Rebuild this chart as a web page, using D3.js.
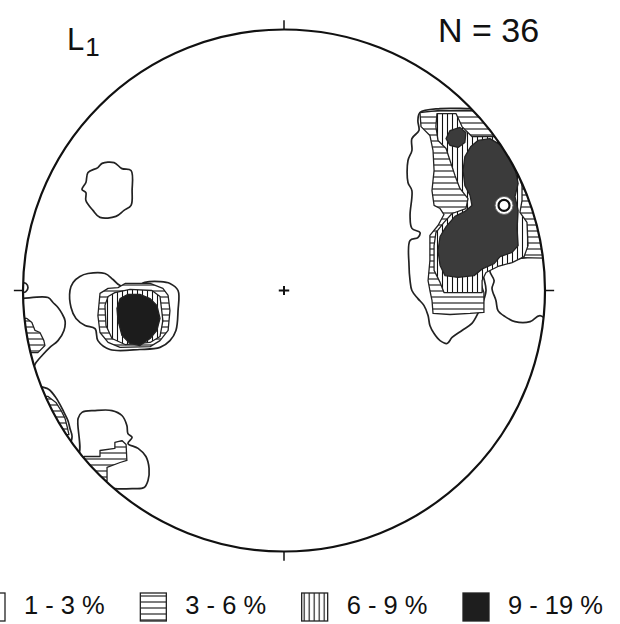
<!DOCTYPE html>
<html>
<head>
<meta charset="utf-8">
<script src="https://cdn.jsdelivr.net/npm/d3@7"></script>
<style>
  body { margin: 0; background: #fff; }
  svg text { font-family: "Liberation Sans", Arial, Helvetica, sans-serif; fill: #111; }
</style>
</head>
<body>
<div id="chart"></div>
<script>
// contour classes of the density plot
const levels = ['1 - 3 %', '3 - 6 %', '6 - 9 %', '9 - 19 %'];
const nPoints = 36;

// contour polygons, net coordinates (primitive circle radius = 100, x east, y north)
const eastOuter = [[52.1,68.2],[59.8,69.7],[71.3,69.7],[78.9,69.7],[105.7,69.7],[105.7,10.7],[90.4,12.6],[82.8,11.9],[75.1,9.2],[76.6,4.6],[77.4,0],[76.2,-4.6],[74.3,-8.8],[72.0,-12.6],[68.2,-15.3],[64.4,-18.0],[62.5,-20.3],[59.8,-19.2],[57.5,-16.5],[55.9,-13.4],[55.2,-9.6],[53.6,-5.7],[51.3,-3.1],[49.0,0],[48.3,3.8],[47.9,9.6],[48.3,19.2],[51.3,20.3],[52.1,22.2],[49.0,23.8],[48.3,28.7],[49.0,38.3],[47.5,41.4],[47.5,49.8],[49.0,53.6],[49.0,58.2],[51.7,61.3],[51.3,65.1]];
const eastLobe = [[78.9,7.7],[82.8,10.7],[90.4,12.3],[105.7,12.3],[105.7,-15.3],[98.1,-9.6],[94.3,-11.9],[88.5,-11.9],[84.7,-10.0],[82.0,-7.7],[81.2,-3.8],[79.7,0.8],[80.5,3.8]];
const east3 = [[52.1,68.2],[59.8,69.0],[74.3,69.0],[105.7,69.0],[105.7,12.3],[90.4,12.6],[82.8,11.9],[75.9,9.2],[75.1,3.8],[76.6,-0.8],[76.6,-8.4],[71.3,-8.8],[63.6,-9.2],[57.1,-8.8],[56.7,-3.8],[55.9,0],[55.2,3.8],[55.9,11.5],[55.9,21.1],[59.0,24.9],[61.3,29.1],[59.8,31.4],[57.5,32.6],[56.7,38.3],[57.5,46.0],[57.1,53.6],[55.9,59.4],[52.5,62.8]];
const east6 = [[58.6,67.8],[65.9,67.8],[68.2,62.8],[72.0,59.0],[80.5,59.0],[85.1,55.2],[88.9,48.7],[91.2,40.2],[91.2,34.5],[90.4,29.9],[93.1,26.1],[93.5,17.2],[92.0,13.0],[87.4,10.7],[82.0,9.2],[77.4,6.9],[75.9,3.8],[75.9,-0.8],[61.3,-0.8],[59.8,3.1],[57.5,7.7],[57.5,17.2],[58.2,22.2],[61.3,26.1],[64.4,29.5],[69.7,31.4],[70.5,35.2],[67.4,39.1],[65.5,44.1],[63.6,49.8],[62.1,54.4],[59.0,57.5],[58.2,62.8]];
const east9 = [[74.3,57.5],[78.9,58.2],[82.8,55.9],[85.8,52.1],[88.5,46.7],[89.7,41.0],[88.5,36.0],[89.7,30.7],[89.3,23.8],[89.7,17.2],[87.4,14.6],[82.8,13.0],[80.5,10.3],[76.2,8.4],[72.8,5.7],[66.7,5.0],[61.7,5.7],[59.8,9.6],[59.0,15.3],[59.8,20.7],[62.1,24.5],[65.5,28.4],[69.3,30.3],[72.0,32.6],[71.3,36.4],[69.3,40.2],[68.6,46.0],[69.3,51.3],[71.6,55.2]];
const east9Small = [[63.6,61.3],[67.4,62.5],[69.7,60.5],[69.3,56.7],[66.7,54.8],[63.6,55.6],[62.1,58.2]];

const westOuter = [[-82.0,0],[-80.8,3.1],[-78.2,5.4],[-75.1,6.5],[-68.6,6.5],[-65.5,4.2],[-62.8,1.9],[-55.9,1.9],[-53.3,3.1],[-47.5,3.4],[-43.7,2.7],[-40.6,0],[-40.6,-7.7],[-41.4,-15.3],[-43.7,-19.2],[-47.5,-21.8],[-55.2,-22.6],[-66.7,-22.6],[-71.3,-19.2],[-72.4,-14.6],[-76.2,-13.4],[-79.7,-10.7],[-81.6,-6.5]];
const west3 = [[-70.5,-1.1],[-67.4,0.8],[-63.6,1.1],[-60.9,2.7],[-51.3,2.7],[-46.4,0.8],[-44.4,-1.9],[-43.7,-7.7],[-44.4,-15.3],[-47.5,-19.2],[-51.3,-21.5],[-62.8,-21.8],[-67.4,-19.9],[-70.5,-16.1],[-71.3,-9.6]];
const west6 = [[-67.4,-2.3],[-64.8,-0.8],[-59.0,0.4],[-50.6,0],[-47.5,-2.3],[-46.4,-11.5],[-47.5,-17.6],[-51.3,-19.9],[-60.9,-20.7],[-65.9,-18.4],[-68.2,-13.4],[-68.6,-5.7]];
const west9 = [[-62.8,-3.1],[-59.8,-1.5],[-55.2,-1.5],[-51.3,-3.1],[-48.7,-5.7],[-47.5,-10.7],[-48.7,-15.3],[-51.3,-18.4],[-55.2,-21.1],[-59.0,-20.3],[-62.1,-17.2],[-63.6,-11.5],[-64.0,-6.9]];

const nwBlob = [[-69.7,48.7],[-65.1,49.0],[-62.1,46.7],[-58.6,46.0],[-58.2,38.3],[-58.6,32.6],[-61.3,30.7],[-64.4,28.4],[-70.5,28.0],[-73.2,30.7],[-75.9,34.5],[-75.9,37.5],[-77.4,38.7],[-75.9,41.4],[-75.1,45.2],[-71.3,47.1]];
const westRim = [[-100.4,3.1],[-98.9,2.7],[-98.1,1.1],[-98.9,-0.4],[-100.4,-0.8],[-103.1,-0.8],[-103.1,3.1]];
const wswOuter = [[-101.1,-3.1],[-90.4,-2.7],[-88.5,-4.6],[-86.6,-6.5],[-85.1,-8.8],[-83.9,-11.5],[-84.3,-15.3],[-86.6,-19.2],[-89.7,-21.8],[-92.7,-24.9],[-95.0,-27.6],[-97.3,-31.4],[-105.0,-31.4],[-105.0,-3.1]];
const wsw3 = [[-98.5,-10.7],[-96.6,-12.3],[-95.4,-15.3],[-93.5,-16.1],[-92.0,-19.2],[-91.6,-21.1],[-94.3,-23.8],[-105.0,-23.8],[-105.0,-10.7]];
const swRimOuter = [[-90.8,-37.5],[-87.7,-40.6],[-85.8,-43.7],[-84.3,-46.7],[-82.8,-49.8],[-82.0,-52.9],[-81.2,-55.9],[-82.0,-58.2],[-97.3,-58.2],[-97.3,-37.5]];
const swRim3 = [[-90.4,-40.6],[-87.4,-42.9],[-85.4,-46.0],[-83.9,-49.0],[-83.1,-52.1],[-82.4,-55.2],[-97.3,-55.2],[-97.3,-40.6]];
const swOuter = [[-78.9,-49.0],[-77.4,-46.7],[-72.4,-46.0],[-65.9,-46.0],[-62.1,-47.9],[-60.2,-51.7],[-59.8,-54.8],[-58.2,-56.3],[-59.8,-58.6],[-55.9,-60.5],[-52.9,-63.6],[-51.7,-68.2],[-52.1,-72.8],[-53.6,-75.5],[-58.2,-75.9],[-64.8,-75.9],[-68.6,-75.1],[-70.5,-74.3],[-85.8,-74.3],[-85.8,-63.2],[-78.9,-63.2]];
const sw3 = [[-76.6,-63.6],[-70.5,-63.6],[-70.5,-61.3],[-64.8,-60.5],[-64.8,-58.2],[-62.1,-57.5],[-60.5,-59.0],[-60.2,-65.1],[-62.8,-65.9],[-67.8,-67.8],[-67.8,-72.8],[-72.4,-73.2],[-78.2,-69.0]];

// maximum marker (net coordinates)
const maxPoint = [84.3, 32.6];
// primitive circle ticks (azimuth, degrees)
const tickAz = [0, 90, 180, 270];

const contours = [
  { level: 0, pts: eastOuter }, { level: 0, pts: eastLobe }, { level: 0, pts: westOuter },
  { level: 0, pts: nwBlob }, { level: 0, pts: westRim }, { level: 0, pts: wswOuter },
  { level: 0, pts: swRimOuter }, { level: 0, pts: swOuter },
  { level: 1, pts: east3 }, { level: 1, pts: west3 }, { level: 1, pts: wsw3 },
  { level: 1, pts: swRim3 }, { level: 1, pts: sw3 },
  { level: 2, pts: east6 }, { level: 2, pts: west6 },
  { level: 3, pts: east9, group: 'e' }, { level: 3, pts: east9Small, group: 'e' }, { level: 3, pts: west9, group: 'w' }
];

const width = 620, height = 624;
const cx = 284, cy = 290.5, R = 261;

const svg = d3.select('#chart').append('svg')
  .attr('width', width)
  .attr('height', height);

svg.append('rect').attr('width', width).attr('height', height).attr('fill', '#fff');

const x = d3.scaleLinear().domain([-100, 100]).range([cx - R, cx + R]);
const y = d3.scaleLinear().domain([-100, 100]).range([cy + R, cy - R]);

const defs = svg.append('defs');
defs.append('clipPath').attr('id', 'net')
  .append('circle').attr('cx', x(0)).attr('cy', y(0)).attr('r', x(100) - x(0));

const hp = defs.append('pattern').attr('id', 'hatchH')
  .attr('patternUnits', 'userSpaceOnUse').attr('width', 6).attr('height', 6);
hp.append('rect').attr('width', 6).attr('height', 6).attr('fill', '#fff');
hp.append('line').attr('x1', 0).attr('x2', 6).attr('y1', 3).attr('y2', 3)
  .attr('stroke', '#111').attr('stroke-width', 1.1);

const vp = defs.append('pattern').attr('id', 'hatchV')
  .attr('patternUnits', 'userSpaceOnUse').attr('width', 5).attr('height', 5);
vp.append('rect').attr('width', 5).attr('height', 5).attr('fill', '#fff');
vp.append('line').attr('x1', 2.5).attr('x2', 2.5).attr('y1', 0).attr('y2', 5)
  .attr('stroke', '#111').attr('stroke-width', 1.1);

const fills = ['#fff', 'url(#hatchH)', 'url(#hatchV)', '#3b3b3b'];

const smooth = d3.line().x(d => x(d[0])).y(d => y(d[1])).curve(d3.curveCatmullRomClosed.alpha(0.5));
const stepped = d3.line().x(d => x(d[0])).y(d => y(d[1])).curve(d3.curveLinearClosed);

const plot = svg.append('g').attr('clip-path', 'url(#net)');

plot.selectAll('path.contour')
  .data(contours)
  .join('path')
  .attr('class', 'contour')
  .attr('d', d => d.level === 0 ? smooth(d.pts) : stepped(d.pts))
  .attr('fill', d => d.level === 3 && d.group === 'w' ? '#1c1c1c' : fills[d.level])
  .attr('stroke', '#222')
  .attr('stroke-width', d => d.level === 0 ? 1.7 : 1.3)
  .attr('stroke-linejoin', 'round');

// maximum marker
const mk = plot.append('g').attr('transform', `translate(${x(maxPoint[0])},${y(maxPoint[1])})`);
mk.append('circle').attr('r', 9).attr('fill', '#fff').attr('stroke', '#666').attr('stroke-width', 1);
mk.append('circle').attr('r', 5.5).attr('fill', '#fff').attr('stroke', '#111').attr('stroke-width', 2.2);

// primitive circle
svg.append('circle')
  .attr('cx', x(0)).attr('cy', y(0)).attr('r', x(100) - x(0))
  .attr('fill', 'none').attr('stroke', '#111').attr('stroke-width', 2.2);

svg.selectAll('line.tick')
  .data(tickAz)
  .join('line')
  .attr('class', 'tick')
  .attr('x1', d => x(100 * Math.sin(d * Math.PI / 180)))
  .attr('y1', d => y(100 * Math.cos(d * Math.PI / 180)))
  .attr('x2', d => x(103.5 * Math.sin(d * Math.PI / 180)))
  .attr('y2', d => y(103.5 * Math.cos(d * Math.PI / 180)))
  .attr('stroke', '#111').attr('stroke-width', 1.5);

// centre cross
svg.append('path')
  .attr('d', `M${x(-2)},${y(0)}H${x(2)}M${x(0)},${y(-1.7)}V${y(1.7)}`)
  .attr('stroke', '#111').attr('stroke-width', 2);

// labels
const title = svg.append('text').attr('x', 67).attr('y', 50).attr('font-size', 31);
title.append('tspan').text('L');
title.append('tspan').attr('font-size', 26).attr('dx', 1).attr('dy', 6).text('1');

svg.append('text')
  .attr('x', 438).attr('y', 41.5)
  .attr('font-size', 34)
  .text(`N = ${nPoints}`);

// legend
const legendX = d3.scaleLinear().domain([0, 3]).range([-21, 463]);
const lg = svg.append('g').selectAll('g')
  .data(levels)
  .join('g')
  .attr('transform', (d, i) => `translate(${legendX(i)},593)`);
lg.append('rect')
  .attr('width', 26).attr('height', 28)
  .attr('fill', (d, i) => i === 3 ? '#1e1e1e' : fills[i])
  .attr('stroke', '#222').attr('stroke-width', 1.3);
lg.append('text')
  .attr('x', 45).attr('y', 21)
  .attr('font-size', 25.5)
  .text(d => d);
</script>
</body>
</html>
